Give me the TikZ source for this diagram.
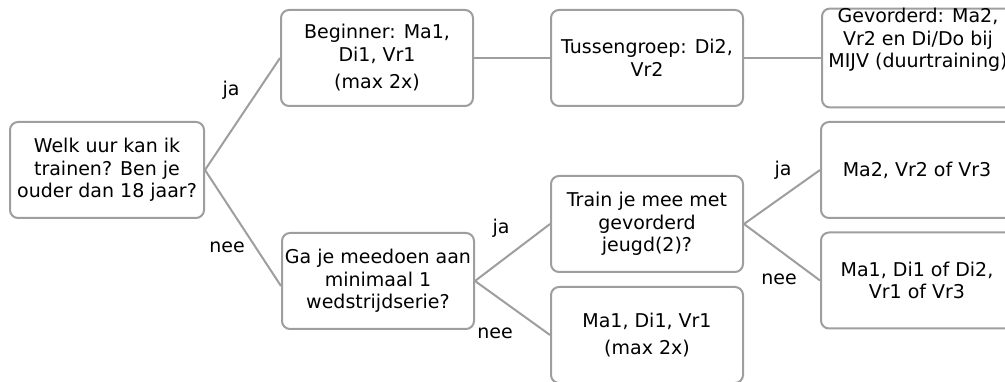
\documentclass[tikz,border=0pt]{standalone}
\usepackage{fontspec}
\setmainfont{DejaVu Sans}
\definecolor{edgegray}{HTML}{9E9E9E}
\begin{document}
\begin{tikzpicture}[x=1pt,y=-1pt,
  box/.style={draw=edgegray, line width=2pt, rounded corners=8pt, minimum width=192pt, minimum height=96pt, inner sep=0pt, align=center, font=\fontsize{19}{22.5}\selectfont},
  conn/.style={draw=edgegray, line width=2pt},
  lbl/.style={inner sep=0pt, font=\fontsize{19}{22.5}\selectfont}]
\useasboundingbox (0,0) rectangle (1005,382);
\clip (0,0) rectangle (1005,382);

\node[box, minimum width=194pt] (A) at (107,170) {Welk uur kan ik\\trainen? Ben je\\ouder dan 18 jaar?};
\node[box] (B) at (377,58) {Beginner: Ma1,\\Di1, Vr1\\[5pt](max 2x)};
\node[box] (C) at (647,58) {Tussengroep: Di2,\\Vr2};
\node[box] (D) at (918,58) {Gevorderd: Ma2,\\Vr2 en Di/Do bij\\MIJV (duurtraining)\\[17pt]\mbox{}};
\node[box] (E) at (378,281) {Ga je meedoen aan\\minimaal 1\\wedstrijdserie?};
\node[box] (F) at (647,224) {Train je mee met\\gevorderd\\jeugd(2)?};
\node[box] (G) at (647,335) {Ma1, Di1, Vr1\\[5pt](max 2x)};
\node[box] (H) at (917,170) {Ma2, Vr2 of Vr3};
\node[box] (I) at (917,280.5) {Ma1, Di1 of Di2,\\Vr1 of Vr3};

\draw[conn] (A.east) -- (B.west);
\draw[conn] (A.east) -- ([yshift=-5pt]E.west);
\draw[conn] (B.east) -- (C.west);
\draw[conn] (C.east) -- (D.west);
\draw[conn] (E.east) -- (F.west);
\draw[conn] (E.east) -- (G.west);
\draw[conn] (F.east) -- (H.west);
\draw[conn] (F.east) -- (I.west);

\node[lbl] (l1) at (231,90) {ja};
\node[lbl] (l2) at (227,247) {nee};
\node[lbl] (l3) at (501,228) {ja};
\node[lbl] (l4) at (495,333) {nee};
\node[lbl] (l5) at (783,170) {ja};
\node[lbl] (l6) at (779,279) {nee};
\end{tikzpicture}
\end{document}
